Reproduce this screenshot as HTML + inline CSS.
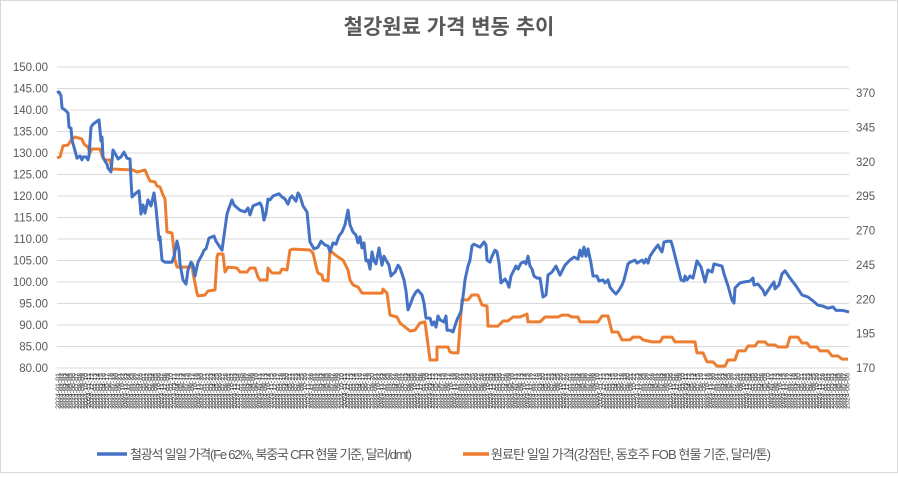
<!DOCTYPE html>
<html><head><meta charset="utf-8"><style>
body{margin:0;background:#fff;}
svg text{font-family:"Liberation Sans","Noto Sans CJK KR",sans-serif;}
</style></head><body>
<svg id="chart" width="898" height="473" xmlns="http://www.w3.org/2000/svg">
<rect x="0.5" y="0.5" width="897" height="472" fill="#fff" stroke="#d9d9d9"/>
<text x="449" y="34" text-anchor="middle" font-size="21" font-weight="bold" fill="#595959">철강원료 가격 변동 추이</text>
<g id="grid"></g><g id="yl"></g><g id="yr"></g><g id="xl"></g><g id="series"></g>
<g>
<line x1="97" y1="454" x2="127" y2="454" stroke="#4472C4" stroke-width="3.5"/>
<text x="130" y="459" font-size="13" fill="#595959" textLength="282">철광석 일일 가격(Fe 62%, 북중국 CFR 현물 기준, 달러/dmt)</text>
<line x1="463" y1="454" x2="489" y2="454" stroke="#ED7D31" stroke-width="3.5"/>
<text x="491" y="459" font-size="13" fill="#595959" textLength="280">원료탄 일일 가격(강점탄, 동호주 FOB 현물 기준, 달러/톤)</text>
</g>
</svg>
<script>
const leftTicks=[80,85,90,95,100,105,110,115,120,125,130,135,140,145,150];
const rightTicks=[170,195,220,245,270,295,320,345,370];
const blueDays=[0,2,4,5,8,11,12,14,15,17,20,23,25,26,29,31,32,34,36,39,42,44,45,46,48,50,51,54,56,59,61,64,67,70,73,74,75,79,82,84,86,88,91,94,97,99,102,103,105,108,115,117,120,122,123,126,129,131,134,136,138,141,145,147,149,152,157,159,165,170,172,175,177,183,188,191,193,196,203,205,207,209,211,213,216,222,225,228,231,233,235,239,241,243,246,250,253,257,261,264,268,271,273,276,279,282,285,288,291,293,296,299,301,303,305,307,309,311,313,315,317,319,322,325,327,329,332,334,336,338,341,343,347,349,351,353,356,359,361,365,367,369,373,375,377,379,381,383,387,389,390,393,396,400,404,406,408,411,413,415,417,423,427,429,430,433,435,438,440,442,444,448,450,452,454,457,459,461,464,467,469,471,473,475,477,480,483,486,489,491,495,499,503,508,513,517,521,523,525,527,529,531,534,536,540,542,546,548,551,553,556,559,562,565,567,569,571,573,578,580,585,587,589,591,593,597,601,603,605,607,611,614,616,620,624,627,628,630,633,636,640,644,648,651,655,657,665,667,671,675,677,678,683,687,693,696,697,701,706,708,714,717,718,722,725,728,733,739,745,751,756,761,766,771,776,779,785,789,792];
const blueVals=[144.0,144.2,143.3,140.5,140.0,139.3,136.0,135.8,133.0,131.4,128.8,129.3,128.4,129.1,129.1,128.4,129.3,136.0,136.7,137.2,137.7,132.8,133.7,129.1,128.1,127.4,126.5,125.6,130.7,129.5,128.6,129.1,130.2,128.8,128.6,123.7,119.8,120.7,121.2,115.8,117.9,116.0,119.1,117.7,120.7,117.2,109.8,110.5,105.1,104.6,104.6,106.0,109.5,107.4,104.2,100.5,99.5,102.8,104.6,103.9,101.4,104.6,106.3,107.4,107.7,110.2,110.7,109.5,107.4,115.8,117.2,119.1,117.9,116.7,116.3,117.2,115.6,117.7,118.4,117.4,114.4,116.0,119.3,119.1,120.0,120.5,119.8,119.3,118.1,119.5,120.0,118.8,120.7,120.0,117.7,116.3,109.3,107.7,108.1,109.5,108.6,108.4,107.0,109.1,108.8,110.7,111.6,113.3,116.7,113.3,111.6,110.9,109.1,110.5,107.9,109.1,104.9,105.1,103.0,107.0,104.9,104.2,107.9,103.9,106.0,105.1,103.9,101.4,101.9,102.3,103.9,103.3,100.5,97.9,93.5,94.6,96.5,97.7,98.1,97.0,95.1,91.6,91.6,90.0,90.7,89.5,92.1,91.2,90.7,92.1,88.8,88.8,88.4,91.2,93.2,96.5,100.5,103.7,105.1,108.4,108.8,108.1,109.3,108.6,105.1,104.6,106.0,107.4,107.0,104.4,99.8,100.7,100.0,98.8,101.4,102.8,103.7,103.0,104.4,104.7,104.2,106.0,103.7,103.0,101.4,100.9,100.9,96.5,97.0,101.6,102.3,103.7,101.6,103.9,105.1,105.8,105.3,107.4,106.0,108.1,106.0,107.7,104.4,101.4,101.4,100.2,100.5,99.8,100.5,98.8,97.9,97.2,98.1,99.3,100.5,102.3,104.2,104.6,105.1,104.4,105.1,104.4,105.3,104.4,106.0,107.4,108.6,107.7,107.0,109.3,109.5,109.5,107.9,104.2,100.5,100.2,101.4,100.5,101.4,100.9,104.9,103.5,100.0,102.8,102.3,104.2,103.7,101.9,99.1,95.8,95.1,98.6,99.8,100.0,100.2,100.9,99.3,99.5,98.1,97.0,99.1,100.0,98.4,99.3,101.9,102.6,100.9,99.1,97.0,96.5,95.6,94.6,94.4,93.9,94.2,93.4,93.4,93.2,93.0];
const orangeDays=[0,3,6,11,15,18,25,26,28,31,33,35,43,46,48,53,55,76,80,88,91,93,98,100,103,106,108,110,115,118,120,133,135,136,140,141,148,151,158,160,161,166,168,171,180,183,190,193,198,201,203,210,211,215,223,225,230,233,236,253,256,260,261,265,266,271,273,276,281,286,291,293,296,301,305,325,326,330,333,340,343,353,358,363,368,373,380,380,391,393,396,401,405,411,415,421,425,430,431,441,446,451,456,463,470,471,483,488,501,505,511,515,521,523,541,545,551,555,561,565,573,576,583,586,595,603,606,615,618,638,640,646,650,656,660,668,671,678,681,688,691,698,701,708,711,718,721,730,733,741,745,750,753,760,763,771,775,781,785,791];
const orangeVals=[322.7,323.5,331.5,332.2,336.5,338.0,336.5,334.4,332.2,330.7,326.4,329.3,329.3,322.7,321.3,321.3,314.7,314.0,312.5,314.0,308.9,306.0,305.3,302.4,301.6,295.8,292.9,268.9,268.2,248.5,243.4,243.4,246.4,239.1,224.5,222.4,223.1,226.0,226.7,250.7,252.9,252.9,239.8,243.4,242.7,239.8,239.8,242.7,242.7,236.2,234.0,234.0,242.7,239.1,239.1,242.0,241.3,255.8,256.5,255.8,253.6,241.3,239.1,237.6,234.0,233.3,255.8,253.6,250.7,248.5,241.3,234.0,230.4,228.9,224.5,224.5,227.4,224.5,208.5,207.1,202.7,196.9,197.6,202.7,203.5,175.8,175.8,185.3,185.3,181.6,181.0,181.0,219.5,219.5,223.1,223.1,215.8,215.1,200.5,200.5,204.2,204.2,207.1,207.1,209.3,203.5,203.5,207.1,207.1,208.5,208.5,207.1,207.1,203.5,203.5,207.8,207.8,196.2,196.2,190.4,190.4,192.5,192.5,190.4,189.0,189.0,192.5,192.5,189.0,189.0,181.0,181.0,174.4,174.4,171.4,171.4,175.8,175.8,182.4,182.4,186.0,186.0,189.0,189.0,186.7,186.7,185.3,185.3,192.5,192.5,188.2,188.2,185.3,185.3,182.4,182.4,178.7,178.7,176.5,176.5];
const dateLabels=[];for(let m=0;m<260;m++){dateLabels.push('2024-'+String(1+(m%12)).padStart(2,'0')+'-'+String(1+(m%28)).padStart(2,'0'));}

const X0=57,X1=849,DMAX=792;
const xS=d=>X0+(d/DMAX)*(X1-X0);
const yL=v=>67+(150-v)*(301/70);
const yR=v=>368-(v-170)*(275/200);
const NS='http://www.w3.org/2000/svg';
function mk(tag,parent){const e=document.createElementNS(NS,tag);parent.appendChild(e);return e;}
const grid=document.getElementById('grid'),yl=document.getElementById('yl'),yr=document.getElementById('yr'),xl=document.getElementById('xl'),ser=document.getElementById('series');
leftTicks.forEach(t=>{
 const l=mk('line',grid);
 
 
 l.setAttribute('x1',X0);l.setAttribute('x2',X1);l.setAttribute('y1',yL(t));l.setAttribute('y2',yL(t));l.setAttribute('stroke','#d9d9d9');
 const tx=mk('text',yl);
 
 
 tx.setAttribute('x',48);tx.setAttribute('y',yL(t)+4);tx.setAttribute('text-anchor','end');tx.setAttribute('font-size','11.5');tx.setAttribute('fill','#595959');tx.textContent=t.toFixed(2);
});
rightTicks.forEach(t=>{
 const tx=mk('text',yr);
 
 
 tx.setAttribute('x',856);tx.setAttribute('y',yR(t)+4);tx.setAttribute('font-size','11.5');tx.setAttribute('fill','#595959');tx.textContent=t;
});
dateLabels.forEach((d,i)=>{
 const x=X0+1+i*(X1-X0)/dateLabels.length;
 const tx=mk('text',xl);
 
 
 tx.setAttribute('transform','translate('+(x+2.5)+',373) rotate(-90)');tx.setAttribute('text-anchor','end');tx.setAttribute('font-size','7');tx.setAttribute('fill','#404040');tx.textContent=d;
});
function line(days,vals,ys,color,name){
 const n=Math.min(days.length,vals.length);
 const pts=[];for(let i=0;i<n;i++){pts.push(xS(days[i]).toFixed(1)+','+ys(vals[i]).toFixed(1));}
 const p=mk('polyline',ser);
 
 
 p.setAttribute('points',pts.join(' '));
 p.setAttribute('fill','none');p.setAttribute('stroke',color);p.setAttribute('stroke-width','3');p.setAttribute('stroke-linejoin','round');
}
line(orangeDays,orangeVals,yR,'#ED7D31','coking-coal-line');
line(blueDays,blueVals,yL,'#4472C4','iron-ore-line');
</script>
</body></html>
